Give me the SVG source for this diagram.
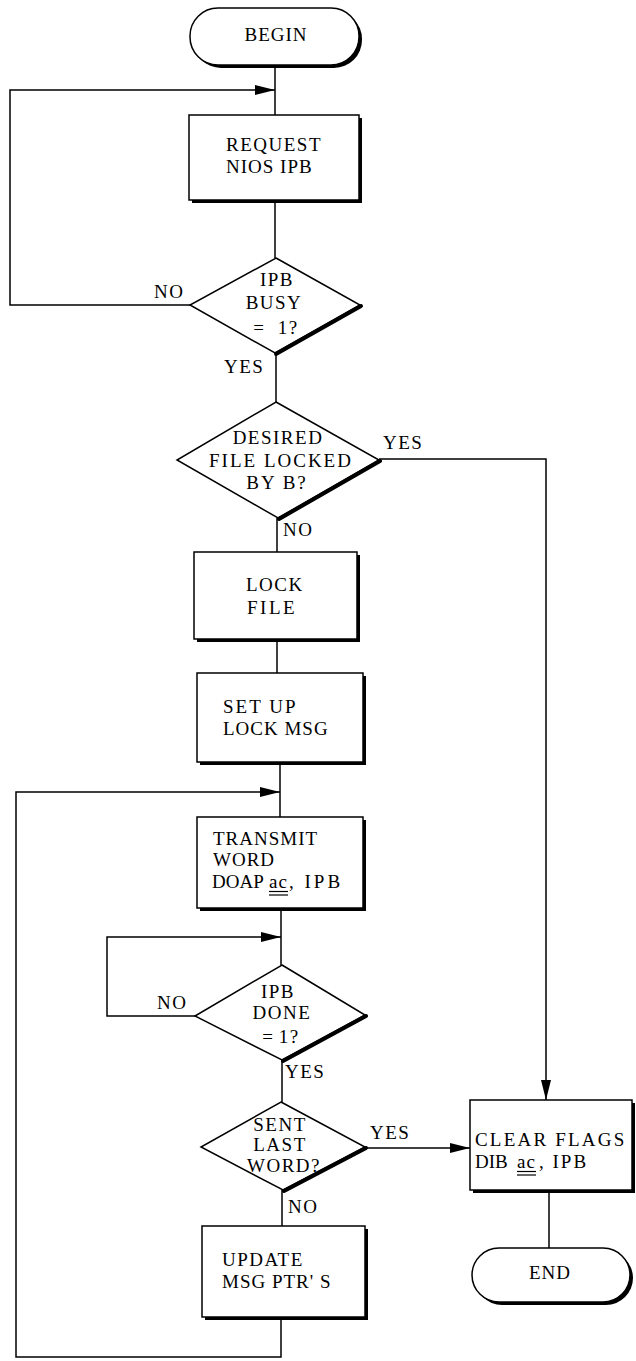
<svg xmlns="http://www.w3.org/2000/svg" width="636" height="1361" viewBox="0 0 636 1361">
<style>
.ln{fill:none;stroke:#000;stroke-width:1.5}
.box{fill:#fff;stroke:#000;stroke-width:1.5}
.sh{fill:#000}
.edge{stroke:#000;stroke-width:4;stroke-linecap:round}
.t{font-family:"Liberation Serif","DejaVu Serif","Times New Roman",serif;font-size:19px;fill:#000;letter-spacing:1.5px}
.c{text-anchor:middle}
.ul{stroke:#000;stroke-width:1.2}
</style>
<defs>
<marker id="ah" markerUnits="userSpaceOnUse" markerWidth="20" markerHeight="10" refX="20" refY="5" orient="auto">
<path d="M0,0 L20,5 L0,10 Z" fill="#000"/>
</marker>
</defs>
<rect width="636" height="1361" fill="#fff"/>

<g id="connectors" font-family="'Liberation Serif','DejaVu Serif',serif">
<path class="ln" d="M275,65 V115"/>
<path class="ln" d="M275,200 V258"/>
<path class="ln" d="M190,305 H10 V90 H275" marker-end="url(#ah)"/>
<path class="ln" d="M276,353 V402"/>
<path class="ln" d="M379,459 H546 V1100" marker-end="url(#ah)"/>
<path class="ln" d="M277,518 V552"/>
<path class="ln" d="M277,639 V673"/>
<path class="ln" d="M280,762 V817"/>
<path class="ln" d="M281,1317 V1357 H16 V792 H280" marker-end="url(#ah)"/>
<path class="ln" d="M281,908 V965"/>
<path class="ln" d="M195,1016 H107 V937 H281" marker-end="url(#ah)"/>
<path class="ln" d="M282,1060 V1102"/>
<path class="ln" d="M365,1148 H470" marker-end="url(#ah)"/>
<path class="ln" d="M282,1190 V1226"/>
<path class="ln" d="M549,1190 V1248"/>
<text class="t" x="154" y="298">NO</text>
<text class="t" x="224" y="373">YES</text>
<text class="t" x="383" y="449">YES</text>
<text class="t" x="283" y="536">NO</text>
<text class="t" x="157" y="1009">NO</text>
<text class="t" x="285" y="1078">YES</text>
<text class="t" x="370" y="1139">YES</text>
<text class="t" x="288" y="1213">NO</text>
</g>

<g id="begin" font-family="'Liberation Serif','DejaVu Serif',serif">
<rect class="sh" x="193" y="11" width="169" height="57" rx="28"/>
<rect class="box" x="190" y="8" width="169" height="57" rx="28"/>
<text class="t c" x="276" y="41" style="letter-spacing:1px">BEGIN</text>
</g>

<g id="request" font-family="'Liberation Serif','DejaVu Serif',serif">
<rect class="sh" x="192" y="118" width="170" height="85"/>
<rect class="box" x="189" y="115" width="170" height="85"/>
<text class="t" x="226" y="151">REQUEST</text>
<text class="t" x="226" y="173" style="letter-spacing:1px">NIOS IPB</text>
</g>

<g id="ipb-busy" font-family="'Liberation Serif','DejaVu Serif',serif">
<polygon class="box" points="276,258 360,305 275,353 190,305"/>
<line class="edge" x1="361" y1="306" x2="276" y2="354"/>
<text class="t c" x="277" y="286">IPB</text>
<text class="t c" x="274" y="309">BUSY</text>
<text class="t c" x="276" y="334" style="word-spacing:6px">= 1?</text>
</g>

<g id="desired" font-family="'Liberation Serif','DejaVu Serif',serif">
<polygon class="box" points="276,402 379,460 278,518 177,460"/>
<line class="edge" x1="380" y1="461" x2="279" y2="519"/>
<text class="t c" x="278" y="444">DESIRED</text>
<text class="t c" x="281" y="467" style="letter-spacing:2px">FILE LOCKED</text>
<text class="t c" x="277" y="489" style="letter-spacing:2px">BY B?</text>
</g>

<g id="lock-file" font-family="'Liberation Serif','DejaVu Serif',serif">
<rect class="sh" x="197" y="555" width="163" height="87"/>
<rect class="box" x="194" y="552" width="163" height="87"/>
<text class="t" x="246" y="591">LOCK</text>
<text class="t" x="247" y="614" style="letter-spacing:2.5px">FILE</text>
</g>

<g id="setup" font-family="'Liberation Serif','DejaVu Serif',serif">
<rect class="sh" x="200" y="676" width="166" height="89"/>
<rect class="box" x="197" y="673" width="166" height="89"/>
<text class="t" x="223" y="713" style="letter-spacing:2px">SET UP</text>
<text class="t" x="223" y="735" style="letter-spacing:1px">LOCK MSG</text>
</g>

<g id="transmit" font-family="'Liberation Serif','DejaVu Serif',serif">
<rect class="sh" x="200" y="820" width="166" height="91"/>
<rect class="box" x="197" y="817" width="166" height="91"/>
<text class="t" x="213" y="845" style="letter-spacing:1px">TRANSMIT</text>
<text class="t" x="213" y="866" style="letter-spacing:1px">WORD</text>
<text class="t" y="888"><tspan x="212" style="letter-spacing:0px">DOAP </tspan><tspan x="269" style="letter-spacing:1px">ac</tspan><tspan x="289" style="letter-spacing:3px">, IPB</tspan></text>
<line class="ul" x1="269" y1="891.5" x2="288" y2="891.5"/>
<line class="ul" x1="269" y1="895" x2="288" y2="895"/>
</g>

<g id="ipb-done" font-family="'Liberation Serif','DejaVu Serif',serif">
<polygon class="box" points="282,965 365,1015 282,1060 195,1016"/>
<line class="edge" x1="366" y1="1016" x2="283" y2="1061"/>
<text class="t c" x="278" y="998">IPB</text>
<text class="t c" x="282" y="1019">DONE</text>
<text class="t c" x="281" y="1043" style="word-spacing:-2px">= 1?</text>
</g>

<g id="sent-last" font-family="'Liberation Serif','DejaVu Serif',serif">
<polygon class="box" points="281,1102 365,1147 283,1190 201,1147"/>
<line class="edge" x1="366" y1="1148" x2="284" y2="1191"/>
<text class="t c" x="280" y="1131">SENT</text>
<text class="t c" x="280" y="1151">LAST</text>
<text class="t c" x="284" y="1172">WORD?</text>
</g>

<g id="update" font-family="'Liberation Serif','DejaVu Serif',serif">
<rect class="sh" x="205" y="1229" width="163" height="91"/>
<rect class="box" x="202" y="1226" width="163" height="91"/>
<text class="t" x="222" y="1266">UPDATE</text>
<text class="t" x="222" y="1288" style="letter-spacing:1px">MSG PTR' S</text>
</g>

<g id="clear-flags" font-family="'Liberation Serif','DejaVu Serif',serif">
<rect class="sh" x="473" y="1103" width="162" height="90"/>
<rect class="box" x="470" y="1100" width="162" height="90"/>
<text class="t" x="475" y="1146" style="letter-spacing:2.2px">CLEAR FLAGS</text>
<text class="t" y="1168"><tspan x="475" style="letter-spacing:0px">DIB </tspan><tspan x="517" style="letter-spacing:1px">ac</tspan><tspan x="539" style="letter-spacing:2px">, IPB</tspan></text>
<line class="ul" x1="517" y1="1171.5" x2="536" y2="1171.5"/>
<line class="ul" x1="517" y1="1175" x2="536" y2="1175"/>
</g>

<g id="end" font-family="'Liberation Serif','DejaVu Serif',serif">
<rect class="sh" x="475" y="1251" width="158" height="54" rx="27"/>
<rect class="box" x="472" y="1248" width="158" height="54" rx="27"/>
<text class="t c" x="550" y="1279" style="letter-spacing:1px">END</text>
</g>
</svg>
